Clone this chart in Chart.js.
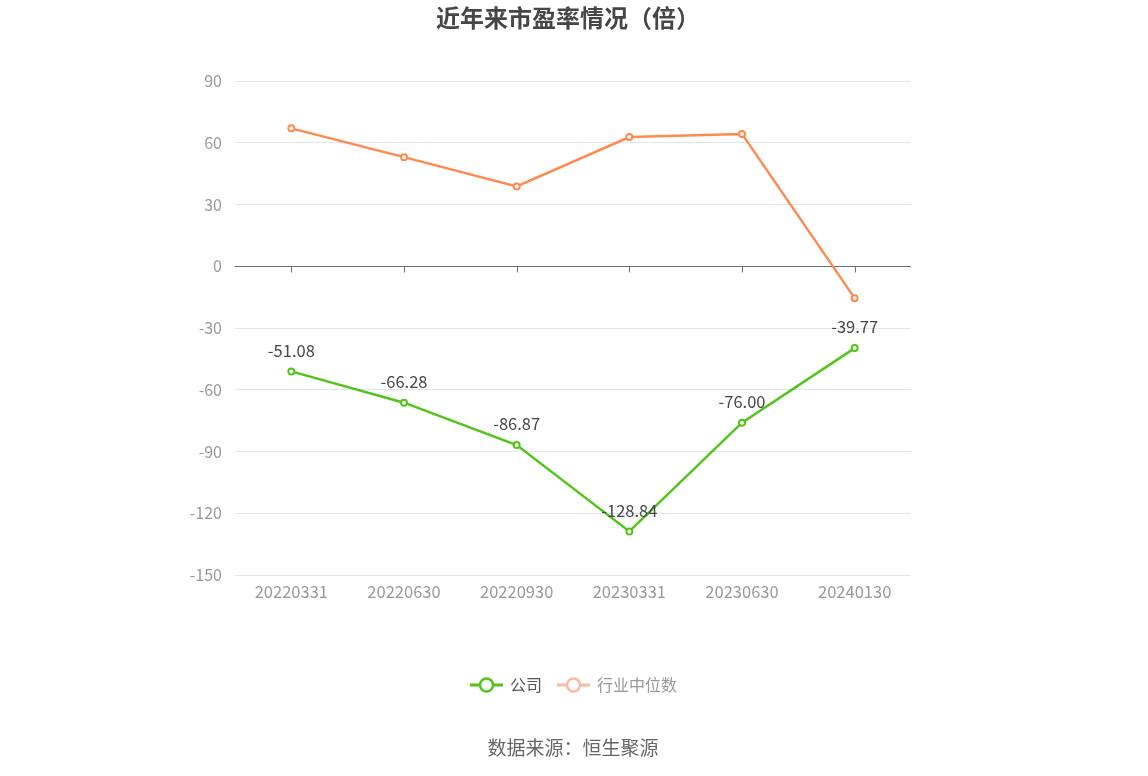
<!DOCTYPE html>
<html>
<head>
<meta charset="utf-8">
<script src="https://cdn.jsdelivr.net/npm/chart.js@4.4.1/dist/chart.umd.min.js"></script>
<style>
  html, body { margin: 0; padding: 0; background: #fff; }
  #wrap { width: 1148px; height: 776px; position: relative; }
</style>
</head>
<body>
<div id="wrap"><canvas id="pe-chart" width="1148" height="776"></canvas></div>
<script>
// dữ liệu
const categories = ['20220331', '20220630', '20220930', '20230331', '20230630', '20240130'];
const companyPE = [-51.08, -66.28, -86.87, -128.84, -76.00, -39.77];
const industryPE = [67.0, 53.0, 38.8, 62.8, 64.3, -15.5];
const yTicks = [-150, -120, -90, -60, -30, 0, 30, 60, 90];

const FONT = '"Noto Sans CJK SC", "Noto Sans", sans-serif';
const GREEN = '#52c41a';
const ORANGE = '#ff8a4f';

// vẽ trục 0, nhãn giá trị, tiêu đề, chú thích và nguồn
const extras = {
    id: 'extras',
    beforeDatasetsDraw(chart) {
        const { ctx, scales: { x, y }, chartArea } = chart;
        const y0 = Math.round(y.getPixelForValue(0)) + 0.5;
        ctx.save();
        ctx.strokeStyle = '#6e7079';
        ctx.lineWidth = 1;
        ctx.beginPath();
        ctx.moveTo(chartArea.left, y0);
        ctx.lineTo(chartArea.right, y0);
        categories.forEach((c, i) => {
            const px = Math.round(x.getPixelForValue(i)) + 0.5;
            ctx.moveTo(px, y0);
            ctx.lineTo(px, y0 + 6);
        });
        ctx.stroke();
        ctx.restore();
    },
    afterDatasetsDraw(chart) {
        const { ctx } = chart;
        ctx.save();
        // nhãn của công ty
        const meta = chart.getDatasetMeta(0);
        ctx.font = '16.5px ' + FONT;
        ctx.fillStyle = '#464646';
        ctx.textAlign = 'center';
        ctx.textBaseline = 'middle';
        meta.data.forEach((pt, i) => {
            ctx.fillText(companyPE[i].toFixed(2), pt.x, pt.y - 21);
        });

        // tiêu đề
        ctx.font = 'bold 24px ' + FONT;
        ctx.fillStyle = '#464646';
        ctx.fillText('近年来市盈率情况（倍）', 568, 18);

        // chú thích
        const items = [
            { label: '公司', color: GREEN, text: '#555', x: 470 },
            { label: '行业中位数', color: '#fbb9a1', text: '#999', x: 557 }
        ];
        items.forEach(it => {
            const cy = 685;
            ctx.strokeStyle = it.color;
            ctx.lineWidth = 3;
            ctx.beginPath();
            ctx.moveTo(it.x, cy);
            ctx.lineTo(it.x + 33, cy);
            ctx.stroke();
            ctx.beginPath();
            ctx.arc(it.x + 16.5, cy, 6.5, 0, Math.PI * 2);
            ctx.fillStyle = '#fff';
            ctx.fill();
            ctx.lineWidth = 2.5;
            ctx.stroke();
            ctx.font = '16px ' + FONT;
            ctx.fillStyle = it.text;
            ctx.textAlign = 'left';
            ctx.fillText(it.label, it.x + 40, cy);
        });

        // nguồn dữ liệu
        ctx.font = '19px ' + FONT;
        ctx.fillStyle = '#666';
        ctx.textAlign = 'center';
        ctx.fillText('数据来源：恒生聚源', 573, 748);
        ctx.restore();
    }
};

new Chart(document.getElementById('pe-chart'), {
    type: 'line',
    data: {
        labels: categories,
        datasets: [
            {
                label: '公司',
                data: companyPE,
                borderColor: GREEN,
                backgroundColor: '#fff',
                borderWidth: 2.5,
                pointRadius: 3,
                pointBorderWidth: 2,
                pointBackgroundColor: '#fff',
                pointBorderColor: GREEN,
                tension: 0,
                order: 1
            },
            {
                label: '行业中位数',
                data: industryPE,
                borderColor: ORANGE,
                backgroundColor: '#fff',
                borderWidth: 2.5,
                pointRadius: 3,
                pointBorderWidth: 2,
                pointBackgroundColor: '#fff',
                pointBorderColor: ORANGE,
                tension: 0,
                order: 2
            }
        ]
    },
    options: {
        responsive: false,
        animation: false,
        layout: { padding: { top: 81, bottom: 161, left: 0, right: 237 } },
        plugins: {
            legend: { display: false },
            title: { display: false },
            tooltip: { enabled: false }
        },
        scales: {
            x: {
                type: 'category',
                offset: true,
                grid: { display: false, drawTicks: false },
                border: { display: false },
                ticks: {
                    color: '#999',
                    font: { size: 16.5, family: FONT },
                    padding: 7,
                    maxRotation: 0
                },
                afterFit(scale) { scale.height = 40; }
            },
            y: {
                min: -150,
                max: 90,
                afterBuildTicks(scale) { scale.ticks = yTicks.map(v => ({ value: v })); },
                grid: {
                    color: ctx => ctx.tick && ctx.tick.value === 0 ? 'rgba(0,0,0,0)' : '#e0e6f1',
                    drawTicks: false,
                    lineWidth: 1
                },
                border: { display: false },
                ticks: {
                    color: '#999',
                    font: { size: 16, family: FONT },
                    padding: 13
                },
                afterFit(scale) { scale.width = 235; }
            }
        }
    },
    plugins: [extras]
});
</script>
</body>
</html>
